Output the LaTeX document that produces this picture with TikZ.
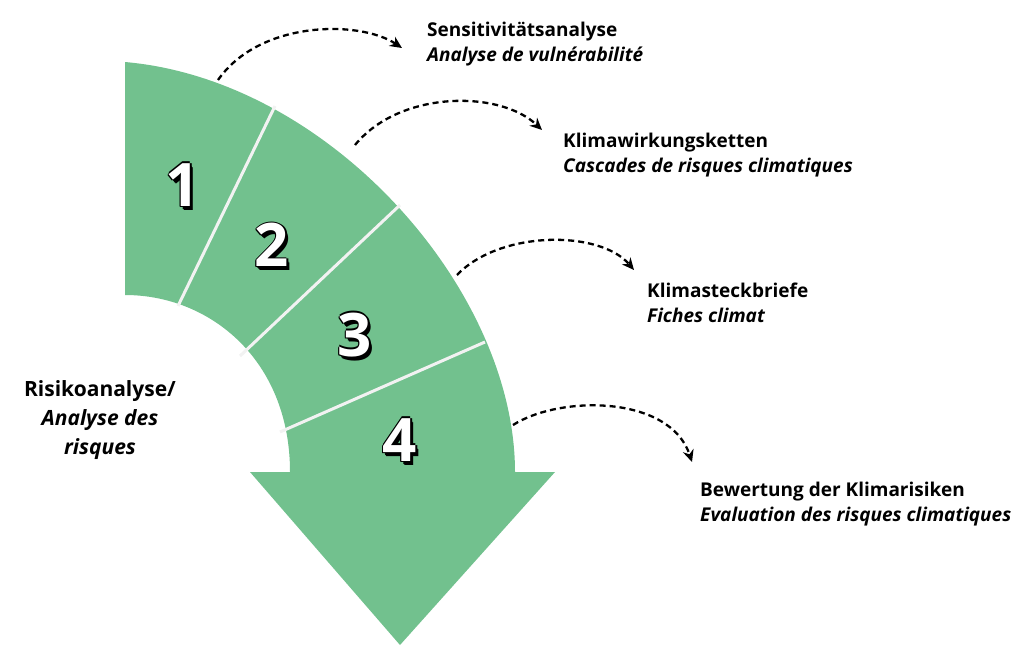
\documentclass[tikz,border=0pt]{standalone}
\usepackage{fontspec}
\setmainfont{Open Sans}
\usetikzlibrary{arrows.meta}
\definecolor{band}{HTML}{72C18E}
\tikzset{
 lbl/.style={anchor=north west,align=left,font=\fontsize{19}{25}\selectfont,inner sep=0pt},
 dasharr/.style={draw=black,line width=2.3pt,dashed,dash pattern=on 6pt off 4pt,-{Stealth[length=12pt,width=11pt]}},
 num/.style={font=\fontsize{60}{60}\selectfont\bfseries,text=white},
 numsh/.style={font=\fontsize{60}{60}\selectfont\bfseries,text=black},
 divider/.style={draw=white!90!gray,line width=3pt}
}
\begin{document}
\begin{tikzpicture}[x=1pt,y=-1pt]
\useasboundingbox (0,0) rectangle (1024,645);
\fill[band] (125,62) .. controls (330,80) and (515,290) .. (515,472) -- (555,472) -- (400,645) -- (250,472) -- (290,472) .. controls (290,360) and (210,295) .. (125,295) -- cycle;
\coordinate (d1a) at (178,306); \coordinate (d1b) at (275,106);
\coordinate (d2a) at (240,356); \coordinate (d2b) at (400,205);
\coordinate (d3a) at (280,432); \coordinate (d3b) at (485,342);
\draw[divider] (d1a) -- (d1b);
\draw[divider] (d2a) -- (d2b);
\draw[divider] (d3a) -- (d3b);
\foreach \n/\x/\y in {1/183/185,2/272/245,3/355/335,4/400/440}{
 \foreach \dx/\dy in {3/4,2/3,1/1.5,-1.5/0,1.5/0,0/-1.5,-1/1}{
  \node[numsh] at (\x+\dx,\y+\dy) {\n};}
 \node[num] (n\n) at (\x,\y) {\n};
}
\node[font=\fontsize{21}{29}\selectfont\bfseries,align=center] (main) at (100,420) {Risikoanalyse/\\\itshape Analyse des\\\itshape risques};
\node[lbl] (t1) at (427,22) {\textbf{Sensitivitätsanalyse}\\\textbf{\itshape Analyse de vulnérabilité}};
\node[lbl] (t2) at (563,133) {\textbf{Klimawirkungsketten}\\\textbf{\itshape Cascades de risques climatiques}};
\node[lbl] (t3) at (647,283) {\textbf{Klimasteckbriefe}\\\textbf{\itshape Fiches climat}};
\node[lbl] (t4) at (700,482) {\textbf{Bewertung der Klimarisiken}\\\textbf{\itshape Evaluation des risques climatiques}};
\coordinate (s1) at (218,80); \coordinate (e1) at (402,48);
\coordinate (s2) at (355,145); \coordinate (e2) at (542,130);
\coordinate (s3) at (457,275); \coordinate (e3) at (634,270);
\coordinate (s4) at (513,425); \coordinate (e4) at (692,462);
\draw[dasharr] (s1) .. controls (260,20) and (360,20) .. (e1);
\draw[dasharr] (s2) .. controls (400,90) and (500,90) .. (e2);
\draw[dasharr] (s3) .. controls (500,230) and (600,230) .. (e3);
\draw[dasharr] (s4) .. controls (560,395) and (670,395) .. (e4);
\end{tikzpicture}
\end{document}
